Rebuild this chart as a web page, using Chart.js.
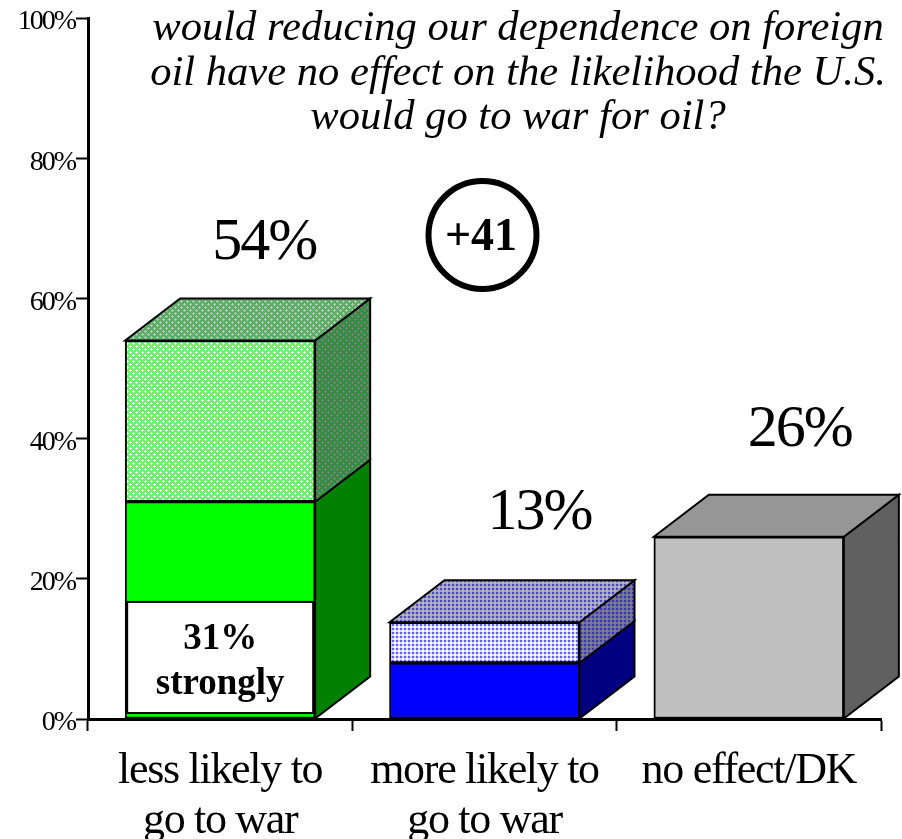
<!DOCTYPE html>
<html>
<head>
<meta charset="utf-8">
<style>html,body{margin:0;padding:0;background:#fff}canvas{display:block}</style>
<script src="https://cdn.jsdelivr.net/npm/chart.js@4"></script>
</head>
<body>
<canvas id="c" width="902" height="839"></canvas>
<script>
const categories = [["less likely to","go to war"],["more likely to","go to war"],"no effect/DK"];
const strongValues = [31, 8, null];
const softValues = [23, 5.8, null];
const otherValues = [null, null, 26];
const totalLabels = ["54%","13%","26%"];
const titleLines = ["would reducing our dependence on foreign","oil have no effect on the likelihood the U.S.","would go to war for oil?"];
const serif = '"Liberation Serif","Times New Roman",serif';

function crosses(bg, cross){
  const t = document.createElement('canvas'); t.width = 6; t.height = 6;
  const g = t.getContext('2d');
  g.fillStyle = bg; g.fillRect(0,0,6,6);
  g.fillStyle = cross;
  [[1,1],[4,4]].forEach(p=>{
    g.fillRect(p[0]-1,p[1],3,1); g.fillRect(p[0],p[1]-1,1,3);
  });
  return g.createPattern(t,'repeat');
}
function dots(bg, mid, dot){
  const t = document.createElement('canvas'); t.width = 4; t.height = 4;
  const g = t.getContext('2d');
  g.fillStyle = mid; g.fillRect(0,0,4,4);
  g.fillStyle = bg; g.fillRect(2,2,2,2);
  g.fillStyle = dot; g.fillRect(0,0,2,2);
  return g.createPattern(t,'repeat');
}
const ctx0 = document.getElementById('c').getContext('2d');
const softFront = crosses('#66f566','#ffffff');
const softSideG = crosses('#2f8f3f','#808080');
const softTopG = crosses('#55b060','#c0c0c0');
const softFrontB = dots('#ffffff','#d8d8ff','#6060ff');
const softSideB = dots('#808080','#6c6ca0','#3838b0');
const softTopB = dots('#b8b8b8','#a0a0c0','#4848c8');
const DX = 55, DY = -42;
const labelLift = [81, 93, 91];
const labelShift = [44, 55, 51];

function face(c, pts, fill){
  c.beginPath(); pts.forEach((p,i)=> i? c.lineTo(p[0],p[1]) : c.moveTo(p[0],p[1])); c.closePath();
  c.fillStyle = fill; c.fill(); c.lineWidth = 2; c.strokeStyle = '#000'; c.stroke();
}
const cube = {
  id:'cube',
  afterDatasetsDraw(chart){
    const c = chart.ctx; c.save();
    const sides = [['#008000','#000080',null],[softSideG,softSideB,null],[null,null,'#606060']];
    const tops = [softTopG,softTopB,'#969696'];
    chart.data.datasets.forEach((ds,di)=>{
      chart.getDatasetMeta(di).data.forEach((el,i)=>{
        if (ds.data[i]==null) return;
        const r = el.x + el.width/2, l = el.x - el.width/2;
        face(c,[[r,el.y],[r+DX,el.y+DY],[r+DX,el.base+DY],[r,el.base]],sides[di][i]);
        if (di>=1) face(c,[[l,el.y],[l+DX,el.y+DY],[r+DX,el.y+DY],[r,el.y]],tops[i]);
      });
    });
    c.restore();
  },
  afterDraw(chart){
    const c = chart.ctx, y = chart.scales.y; c.save();
    c.fillStyle = '#000'; c.textAlign = 'center'; c.textBaseline = 'alphabetic';
    c.font = 'italic 42.6px '+serif;
    titleLines.forEach((t,i)=> c.fillText(t, 518, 40+i*44.5));
    c.font = '60px '+serif; c.letterSpacing = '-2px';
    const meta0 = chart.getDatasetMeta(0).data, meta2 = chart.getDatasetMeta(2).data;
    const anchors = [meta0[0], meta0[1], meta2[2]];
    const tops = [54, 13.8, 26];
    totalLabels.forEach((t,i)=> c.fillText(t, anchors[i].x + labelShift[i], y.getPixelForValue(tops[i]) - labelLift[i]));
    c.letterSpacing = '0px';
    c.beginPath(); c.arc(482.5,235,54,0,Math.PI*2); c.lineWidth = 6; c.strokeStyle='#000'; c.stroke();
    c.font = 'bold 46px '+serif; c.fillText('+41',481,250);
    const b = meta0[0], bl = b.x - b.width/2 + 2, bw = b.width - 4;
    const t1 = y.getPixelForValue(16.7), t2 = y.getPixelForValue(0.85);
    c.fillStyle = '#fff'; c.fillRect(bl,t1,bw,t2-t1);
    c.lineWidth = 2; c.strokeRect(bl,t1,bw,t2-t1);
    c.fillStyle = '#000'; c.font = 'bold 37px '+serif;
    c.fillText('31%', b.x, 649); c.fillText('strongly', b.x, 694);
    c.restore();
  }
};
function spaced(scale, px){
  if (scale._sp) return; scale._sp = true;
  const orig = scale.drawLabels.bind(scale);
  scale.drawLabels = function(a){ const c = scale.ctx; c.letterSpacing = px; orig(a); c.letterSpacing = '0px'; };
}
new Chart(ctx0,{
  type:'bar',
  data:{labels:categories,datasets:[
    {label:'strongly',data:strongValues,backgroundColor:['#00ff00','#0000ff','#00ff00']},
    {label:'somewhat',data:softValues,backgroundColor:[softFront,softFrontB,softFront]},
    {label:'other',data:otherValues,backgroundColor:'#c0c0c0'}
  ].map(d=>Object.assign(d,{borderColor:'#000',borderWidth:2,barThickness:190,borderSkipped:false}))},
  plugins:[cube],
  options:{
    responsive:false,animation:false,
    layout:{padding:{top:18,right:21,left:0,bottom:0}},
    plugins:{legend:{display:false},tooltip:{enabled:false},title:{display:false}},
    scales:{
      x:{stacked:true,
        grid:{drawOnChartArea:false,color:'#000',tickLength:12,offset:true,tickWidth:2},
        border:{color:'#000',width:3},
        ticks:{color:'#000',font:{family:serif,size:44,lineHeight:1.15},padding:15,maxRotation:0,minRotation:0,autoSkip:false},
        afterFit(s){s.height=120;spaced(s,'-1.3px');}
      },
      y:{stacked:true,min:0,max:100,
        grid:{drawOnChartArea:false,color:'#000',tickLength:12,tickWidth:2},
        border:{color:'#000',width:3},
        ticks:{color:'#000',stepSize:20,font:{family:serif,size:28},padding:1,labelOffset:4,callback:v=>v+'%'},
        afterFit(s){s.width=88;spaced(s,'-2px');}
      }
    }
  }
});
</script>
</body>
</html>
